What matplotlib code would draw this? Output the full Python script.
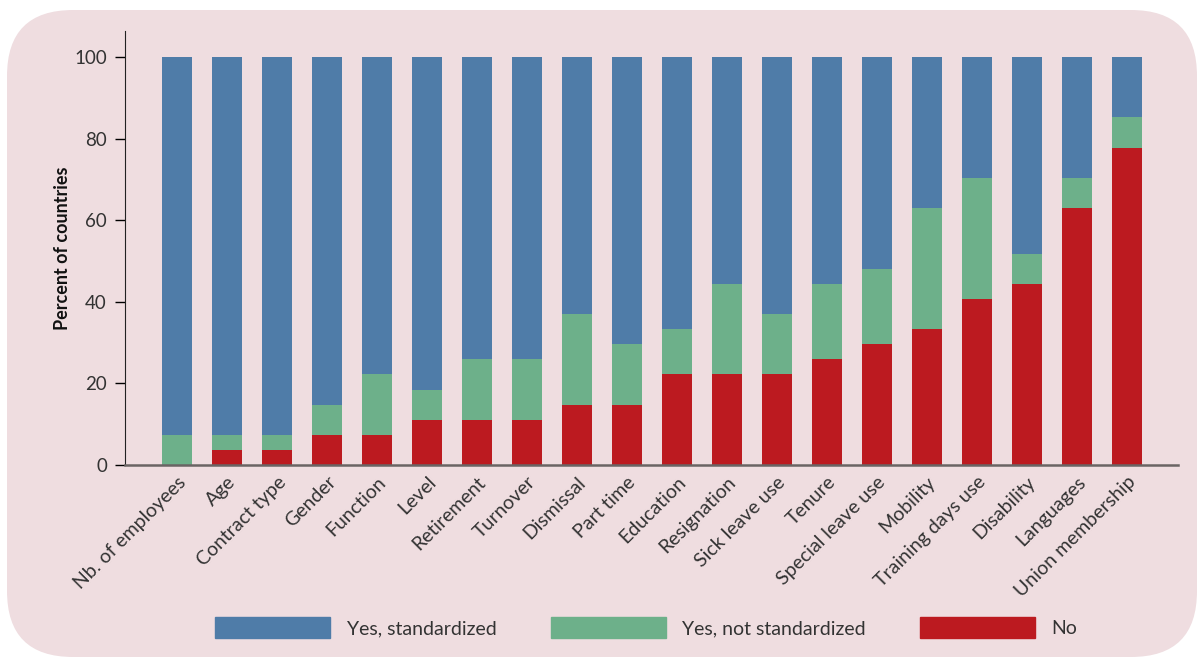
import numpy as np
import matplotlib.pyplot as plt
from matplotlib.patches import FancyBboxPatch, Patch
from matplotlib.transforms import IdentityTransform

plt.rcParams['font.family'] = ['Lato', 'DejaVu Sans']

categories = ["Nb. of employees", "Age", "Contract type", "Gender", "Function",
              "Level", "Retirement", "Turnover", "Dismissal", "Part time",
              "Education", "Resignation", "Sick leave use", "Tenure",
              "Special leave use", "Mobility", "Training days use", "Disability",
              "Languages", "Union membership"]

# percent of countries (27 countries)
no = [0, 3.7, 3.7, 7.4, 7.4, 11.1, 11.1, 11.1, 14.8, 14.8,
      22.2, 22.2, 22.2, 25.9, 29.6, 33.3, 40.7, 44.4, 63.0, 77.8]
yes_not_std = [7.4, 3.7, 3.7, 7.4, 14.8, 7.4, 14.8, 14.8, 22.2, 14.8,
               11.1, 22.2, 14.8, 18.5, 18.5, 29.6, 29.6, 7.4, 7.4, 7.4]
yes_std = [100 - a - b for a, b in zip(no, yes_not_std)]

blue = "#4F7CA8"
green = "#6DB08A"
red = "#BC1A20"
bg = "#EFDDE0"
txt = "#333333"

fig = plt.figure(figsize=(11.97, 6.57), dpi=100)
fig.patch.set_facecolor("white")

# rounded pink panel (pixel coordinates, origin bottom-left)
panel = FancyBboxPatch((7, 0), 1190, 647, boxstyle="round,pad=0,rounding_size=66",
                       transform=IdentityTransform(), facecolor=bg, edgecolor="none",
                       zorder=-10)
fig.patches.append(panel)

ax = fig.add_axes([0.1044, 0.2922, 0.984 - 0.1044, 0.9528 - 0.2922])
ax.set_facecolor("none")

x = np.arange(len(categories))
w = 0.6
ax.bar(x, no, w, color=red, label="No")
ax.bar(x, yes_not_std, w, bottom=no, color=green, label="Yes, not standardized")
ax.bar(x, yes_std, w, bottom=np.add(no, yes_not_std), color=blue, label="Yes, standardized")

ax.set_xlim(-1.04, len(categories) - 1 + 1.02)
ax.set_ylim(0, 106.4)
ax.set_yticks([0, 20, 40, 60, 80, 100])
ax.set_xticks(x)
ax.set_xticklabels(categories, rotation=45, ha="right", rotation_mode="anchor")
ax.tick_params(axis="x", length=0, pad=6, labelsize=14, labelcolor=txt)
ax.tick_params(axis="y", length=7, width=1, pad=6, labelsize=13.5, labelcolor=txt)
ax.set_ylabel("Percent of countries", fontsize=13, fontweight="bold", color="#111111",
              labelpad=2)

for s in ["top", "right"]:
    ax.spines[s].set_visible(False)
ax.spines["left"].set_color("#222222")
ax.spines["bottom"].set_color("#6a6464")
ax.spines["bottom"].set_linewidth(1.8)

handles = [Patch(color=blue), Patch(color=green), Patch(color=red)]
labels = ["Yes, standardized", "Yes, not standardized", "No"]
leg = fig.legend(handles, labels, loc="center", bbox_to_anchor=(0.540, 0.045), ncol=3,
                 frameon=False, fontsize=14, handlelength=5.9, handleheight=1.25,
                 handletextpad=0.85, columnspacing=2.8)
for t in leg.get_texts():
    t.set_color(txt)

fig.savefig("out.png", dpi=100)
